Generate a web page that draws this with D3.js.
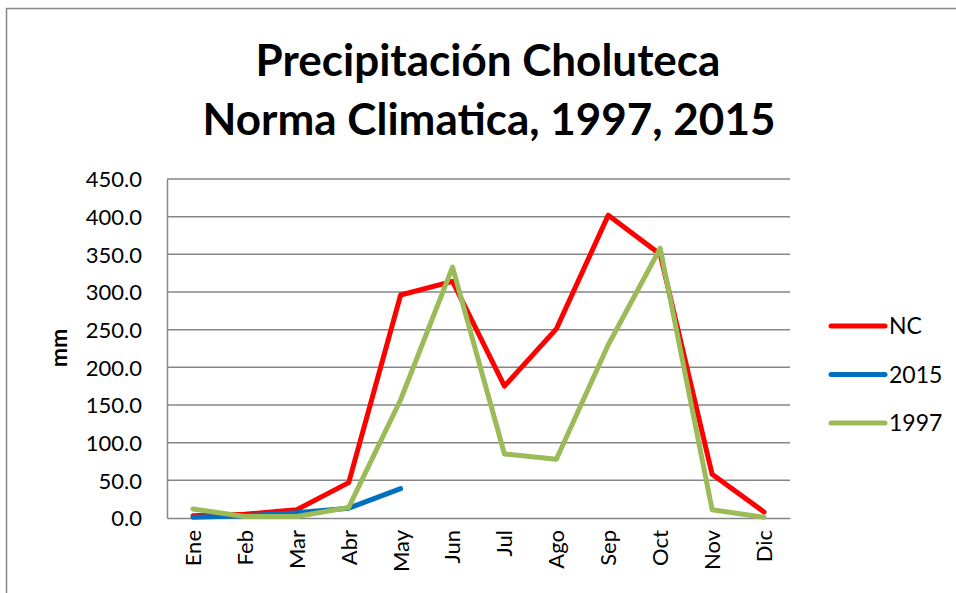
<!DOCTYPE html>
<html>
<head>
<meta charset="utf-8">
<script src="https://cdn.jsdelivr.net/npm/d3@7"></script>
<style>
  body { margin: 0; background: #fff; }
  svg text { font-family: Lato, "Open Sans", sans-serif; fill: #000; }
</style>
</head>
<body>
<svg id="chart" width="956" height="593"></svg>
<script>
// months on the x axis
var months = ["Ene", "Feb", "Mar", "Abr", "May", "Jun", "Jul", "Ago", "Sep", "Oct", "Nov", "Dic"];
// precipitation (mm)
var nc = [3, 5, 11, 47, 296, 314, 175, 251, 402, 350, 58, 8];
var y2015 = [1, 3, 7, 13, 39];
var y1997 = [12, 2, 2, 14, 157, 333, 85, 78, 230, 358, 11, 1];
var yTicks = [0, 50, 100, 150, 200, 250, 300, 350, 400, 450];

var series = [
    { name: "NC", values: nc, color: "#ff0000" },
    { name: "2015", values: y2015, color: "#0070c0" },
    { name: "1997", values: y1997, color: "#9bbb59" }
];

var svg = d3.select("#chart");
var margin = { top: 179, left: 167, right: 166, bottom: 75 };
var width = 956 - margin.left - margin.right;
var height = 593 - margin.top - margin.bottom;

// outer chart border (only top and left visible)
svg.append("rect")
    .attr("x", 6.5).attr("y", 8.5)
    .attr("width", 1000).attr("height", 700)
    .attr("fill", "none").attr("stroke", "#868686").attr("stroke-width", 1.5);

svg.append("text")
    .attr("x", 488).attr("y", 76)
    .attr("text-anchor", "middle")
    .style("font-size", "44px").style("font-weight", "bold")
    .text("Precipitación Choluteca");
svg.append("text")
    .attr("x", 489).attr("y", 135)
    .attr("text-anchor", "middle")
    .style("font-size", "44px").style("font-weight", "bold")
    .text("Norma Climatica, 1997, 2015");

var x = d3.scaleBand().domain(months).range([0, width]);
var y = d3.scaleLinear().domain([0, 450]).range([height, 0]);

var g = svg.append("g").attr("transform", "translate(" + margin.left + "," + margin.top + ")");

// gridlines
g.selectAll(".grid").data(yTicks.slice(1)).enter()
    .append("line")
    .attr("x1", 0).attr("x2", width)
    .attr("y1", d => y(d)).attr("y2", d => y(d))
    .attr("stroke", "#868686").attr("stroke-width", 1.5);

var yAxis = g.append("g")
    .call(d3.axisLeft(y).tickValues(yTicks).tickFormat(d3.format(".1f")).tickSize(0).tickPadding(25));
yAxis.select(".domain").attr("stroke", "#868686").attr("stroke-width", 1.5);
yAxis.selectAll("text").style("font-size", "22px").attr("dy", "0.36em");

var xAxis = g.append("g")
    .attr("transform", "translate(0," + height + ")")
    .call(d3.axisBottom(x).tickSize(0).tickPadding(0));
xAxis.select(".domain").attr("stroke", "#868686").attr("stroke-width", 1.5);
xAxis.selectAll("text")
    .style("font-size", "22px")
    .attr("transform", "rotate(-90)")
    .attr("text-anchor", "end")
    .attr("x", -12).attr("y", 0).attr("dy", "0.36em");

svg.append("text")
    .attr("transform", "translate(67,348) rotate(-90)")
    .attr("text-anchor", "middle")
    .style("font-size", "23px").style("font-weight", "bold")
    .text("mm");

var line = d3.line()
    .x((d, i) => x(months[i]) + x.bandwidth() / 2)
    .y(d => y(d));

g.selectAll(".series").data(series).enter()
    .append("path")
    .attr("fill", "none")
    .attr("stroke", d => d.color)
    .attr("stroke-width", 5)
    .attr("stroke-linejoin", "round")
    .attr("stroke-linecap", "round")
    .attr("d", d => line(d.values));

// legend
var legend = svg.append("g").attr("transform", "translate(831,326)");
var item = legend.selectAll(".item").data(series).enter()
    .append("g")
    .attr("transform", (d, i) => "translate(0," + i * 48.5 + ")");
item.append("line")
    .attr("x1", 0).attr("x2", 54)
    .attr("stroke", d => d.color).attr("stroke-width", 5)
    .attr("stroke-linecap", "round");
item.append("text")
    .attr("x", 58).attr("dy", "0.36em")
    .style("font-size", "23px")
    .text(d => d.name);
</script>
</body>
</html>
